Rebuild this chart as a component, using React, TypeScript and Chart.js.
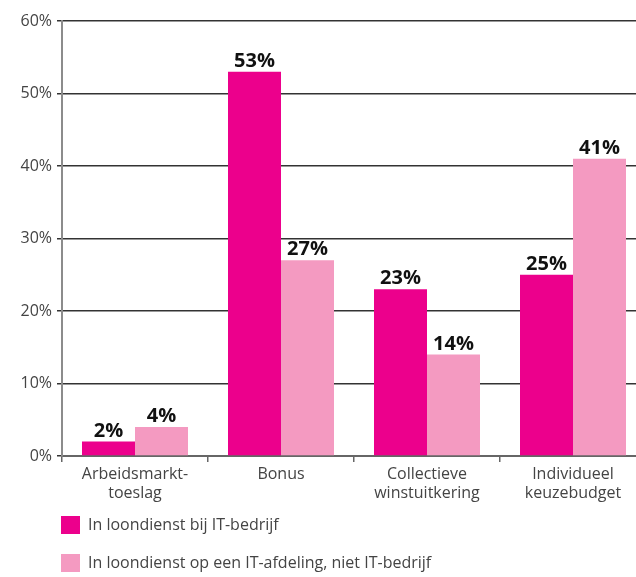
import React, { useEffect, useRef } from "react";
import { Chart, registerables } from "chart.js";

Chart.register(...registerables);

const categories: string[][] = [
  ["Arbeidsmarkt-", "toeslag"],
  ["Bonus"],
  ["Collectieve", "winstuitkering"],
  ["Individueel", "keuzebudget"],
];
const seriesLabels = [
  "In loondienst bij IT-bedrijf",
  "In loondienst op een IT-afdeling, niet IT-bedrijf",
];
const itBedrijf = [2, 53, 23, 25];
const itAfdeling = [4, 27, 14, 41];
const seriesColors = ["#EC008C", "#F49AC1"];
const yTicks = { min: 0, max: 60, step: 10 };

const FONT = '"Open Sans", "DejaVu Sans", sans-serif';

const dataLabelPlugin = {
  id: "dataLabels",
  afterDatasetsDraw(chart: any) {
    const ctx = chart.ctx;
    ctx.save();
    ctx.font = `bold 20px ${FONT}`;
    ctx.fillStyle = "#111";
    ctx.textAlign = "center";
    ctx.textBaseline = "alphabetic";
    chart.data.datasets.forEach((ds: any, i: number) => {
      const meta = chart.getDatasetMeta(i);
      meta.data.forEach((bar: any, j: number) => {
        ctx.fillText(`${ds.data[j]}%`, bar.x, bar.y - 5);
      });
    });
    ctx.restore();
  },
};

const legendPlugin = {
  id: "customLegend",
  afterDraw(chart: any) {
    const ctx = chart.ctx;
    const top = chart.chartArea.bottom + 60;
    ctx.save();
    ctx.font = `16px ${FONT}`;
    ctx.textBaseline = "middle";
    ctx.textAlign = "left";
    chart.data.datasets.forEach((ds: any, i: number) => {
      const y = top + i * 38;
      ctx.fillStyle = ds.backgroundColor;
      ctx.fillRect(61, y, 19, 18);
      ctx.fillStyle = "#444";
      ctx.fillText(ds.label, 88, y + 9.5);
    });
    ctx.restore();
  },
};

export default function App() {
  const canvasRef = useRef<HTMLCanvasElement | null>(null);

  useEffect(() => {
    if (!canvasRef.current) return;
    Chart.defaults.font.family = FONT;
    const chart = new Chart(canvasRef.current, {
      type: "bar",
      data: {
        labels: categories,
        datasets: [
          {
            label: seriesLabels[0],
            data: itBedrijf,
            backgroundColor: seriesColors[0],
            categoryPercentage: 0.726,
            barPercentage: 1,
          },
          {
            label: seriesLabels[1],
            data: itAfdeling,
            backgroundColor: seriesColors[1],
            categoryPercentage: 0.726,
            barPercentage: 1,
          },
        ],
      },
      options: {
        responsive: false,
        animation: false,
        layout: { padding: { left: 0, right: 14, top: 21, bottom: 66 } },
        plugins: {
          legend: { display: false },
          tooltip: { enabled: false },
        },
        scales: {
          x: {
            afterFit(scale: any) {
              scale.height = 55;
            },
            grid: {
              drawOnChartArea: false,
              drawTicks: true,
              tickLength: 6,
              color: "#666",
              lineWidth: 1.5,
            },
            border: { color: "#666", width: 2 },
            ticks: {
              color: "#444",
              padding: 3,
              font: { size: 16, lineHeight: 1.2 },
              maxRotation: 0,
              autoSkip: false,
            },
          },
          y: {
            min: yTicks.min,
            max: yTicks.max,
            afterFit(scale: any) {
              scale.width = 62;
            },
            grid: {
              color: "#333",
              lineWidth: 1.5,
              tickLength: 5,
            },
            border: { color: "#8c8c8c", width: 2 },
            ticks: {
              stepSize: yTicks.step,
              color: "#444",
              padding: 5,
              font: { size: 16 },
              callback: (v: any) => `${v}%`,
            },
          },
        },
      },
      plugins: [dataLabelPlugin, legendPlugin],
    });
    return () => chart.destroy();
  }, []);

  return (
    <div
      style={{
        position: "absolute",
        top: 0,
        left: 0,
        width: 636,
        height: 577,
        overflow: "hidden",
        background: "#fff",
      }}
    >
      <canvas ref={canvasRef} width={660} height={577} style={{ display: "block" }} />
    </div>
  );
}
